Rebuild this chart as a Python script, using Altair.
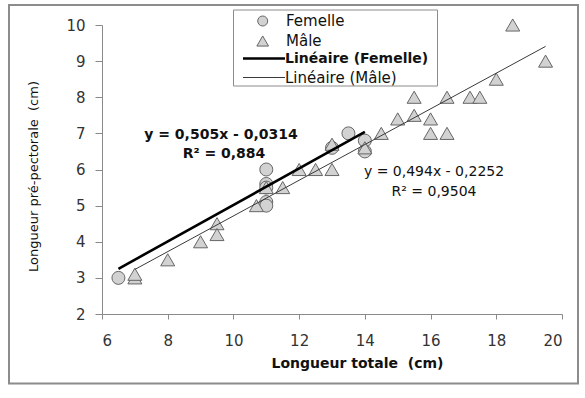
import altair as alt
import pandas as pd

# ---------------- data ----------------
fem_x = [6.5, 11.0, 11.0, 11.0, 11.0, 11.0, 13.0, 13.5, 14.0, 14.0]
fem_y = [3.0, 6.0, 5.6, 5.5, 5.1, 5.0, 6.6, 7.0, 6.8, 6.5]

male_x = [7.0, 7.0, 8.0, 9.0, 9.5, 9.5, 10.7, 11.0, 11.5, 12.0, 12.5, 13.0, 13.0,
          14.0, 14.5, 15.0, 15.5, 15.5, 16.0, 16.0, 16.5, 16.5, 17.2, 17.5, 18.0,
          18.5, 19.5]
male_y = [3.0, 3.1, 3.5, 4.0, 4.5, 4.2, 5.0, 5.5, 5.5, 6.0, 6.0, 6.0, 6.7,
          6.6, 7.0, 7.4, 8.0, 7.5, 7.4, 7.0, 7.0, 8.0, 8.0, 8.0, 8.5,
          10.0, 9.0]

trend_names = ["Femelle", "Mâle"]
trend_slope = [0.505, 0.494]
trend_intercept = [-0.0314, -0.2252]
trend_xmin = [6.5, 7.0]
trend_xmax = [14.0, 19.5]

eq_labels = ["y = 0,505x - 0,0314", "y = 0,494x - 0,2252"]
r2_labels = ["R² = 0,884", "R² = 0,9504"]

x_ticks = [6, 8, 10, 12, 14, 16, 18, 20]
y_ticks = [2, 3, 4, 5, 6, 7, 8, 9, 10]

legend_labels = ["Femelle", "Mâle", "Linéaire (Femelle)", "Linéaire (Mâle)"]
x_title = "Longueur totale \u00a0(cm)"
y_title = "Longueur pré-pectorale \u00a0(cm)"

# ---------------- tables ----------------
fem_df = pd.DataFrame({"x": fem_x, "y": fem_y})
male_df = pd.DataFrame({"x": male_x, "y": male_y})
rows = []
for n, a, b, x0, x1 in zip(trend_names, trend_slope, trend_intercept, trend_xmin, trend_xmax):
    for xv in (x0, x1):
        rows.append({"serie": n, "x": xv, "y": a * xv + b})
trend_df = pd.DataFrame(rows)

# ---------------- layout ----------------
PL, PT = 102, 25          # plot origin in page pixels
W, H = 460, 289
FONT = "DejaVu Sans"


def px(v):
    return v - PL


def py(v):
    return v - PT


one = pd.DataFrame({"k": [0]})

x_enc = alt.X("x:Q",
              scale=alt.Scale(domain=[6, 20], nice=False, zero=False),
              axis=alt.Axis(values=x_ticks, title=x_title, grid=False,
                            domainColor="#8a8a8a", tickColor="#8a8a8a", tickSize=5,
                            labelFont=FONT, labelFontSize=15, labelColor="#333333",
                            labelPadding=14,
                            titleFont=FONT, titleFontSize=14, titleFontWeight="bold",
                            titleColor="#111111",
                            titleX=px(357), titleY=49, titleAlign="center",
                            titleBaseline="middle"))
y_enc = alt.Y("y:Q",
              scale=alt.Scale(domain=[2, 10], nice=False, zero=False),
              axis=alt.Axis(values=y_ticks, title=y_title, grid=False,
                            domainColor="#8a8a8a", tickColor="#8a8a8a", tickSize=7,
                            labelFont=FONT, labelFontSize=15, labelColor="#333333",
                            labelPadding=10,
                            titleFont=FONT, titleFontSize=13, titleFontWeight="normal",
                            titleColor="#111111",
                            titleX=px(33), titleY=py(176), titleAlign="center",
                            titleBaseline="middle", titleAngle=270))

FILL = "#d2d2d2"
STROKE = "#666666"

border = alt.Chart(one).mark_rect(fill="transparent", stroke="#8c8c8c", strokeWidth=2).encode(
    x=alt.value(px(9)), x2=alt.value(px(578)), y=alt.value(py(5)), y2=alt.value(py(383.5)))

fem_pts = alt.Chart(fem_df).mark_point(shape="circle", filled=True, fill=FILL,
                                       stroke=STROKE, strokeWidth=1, size=169,
                                       opacity=1).encode(x=x_enc, y=y_enc)
male_pts = alt.Chart(male_df).mark_point(shape="triangle-up", filled=True, fill=FILL,
                                         stroke=STROKE, strokeWidth=1, size=196,
                                         opacity=1).encode(x=x_enc, y=y_enc)

fem_line = alt.Chart(trend_df).transform_filter(alt.datum.serie == "Femelle").mark_line(
    color="black", strokeWidth=2.6).encode(x=x_enc, y=y_enc)
male_line = alt.Chart(trend_df).transform_filter(alt.datum.serie == "Mâle").mark_line(
    color="#3a3a3a", strokeWidth=1).encode(x=x_enc, y=y_enc)


def text_layer(label, cx, cy, size, weight="normal", align="center"):
    return alt.Chart(pd.DataFrame({"t": [label]})).mark_text(
        font=FONT, fontSize=size, fontWeight=weight, align=align, baseline="middle",
        color="#111111").encode(x=alt.value(px(cx)), y=alt.value(py(cy)), text="t:N")


ann = [
    text_layer(eq_labels[0], 221, 135, 14, "bold"),
    text_layer(r2_labels[0], 224, 154, 14, "bold"),
    text_layer(eq_labels[1], 434, 172, 14),
    text_layer(r2_labels[1], 434, 192, 14),
]

# legend
leg_box = alt.Chart(one).mark_rect(fill="white", stroke="#8c8c8c", strokeWidth=1).encode(
    x=alt.value(px(233.5)), x2=alt.value(px(437.5)), y=alt.value(py(10)), y2=alt.value(py(86)))
leg_circle = alt.Chart(one).mark_point(shape="circle", filled=True, fill=FILL, stroke=STROKE,
                                       strokeWidth=1, size=100, opacity=1).encode(
    x=alt.value(px(262.7)), y=alt.value(py(21)))
leg_tri = alt.Chart(one).mark_point(shape="triangle-up", filled=True, fill=FILL, stroke=STROKE,
                                    strokeWidth=1, size=137, opacity=1).encode(
    x=alt.value(px(262.7)), y=alt.value(py(41)))
leg_l1 = alt.Chart(one).mark_rule(color="black", strokeWidth=2.6).encode(
    x=alt.value(px(243)), x2=alt.value(px(285)), y=alt.value(py(58.5)))
leg_l2 = alt.Chart(one).mark_rule(color="#3a3a3a", strokeWidth=1).encode(
    x=alt.value(px(243)), x2=alt.value(px(285)), y=alt.value(py(77.5)))
leg_txt = [
    text_layer(legend_labels[0], 286, 21, 15, align="left"),
    text_layer(legend_labels[1], 286, 40.5, 15, align="left"),
    text_layer(legend_labels[2], 285, 58.5, 14, "bold", align="left"),
    text_layer(legend_labels[3], 285, 77.5, 15, align="left"),
]

chart = alt.layer(
    fem_pts, male_pts, fem_line, male_line, border, *ann,
    leg_box, leg_circle, leg_tri, leg_l1, leg_l2, *leg_txt
).properties(
    width=W, height=H,
    padding={"left": PL, "top": PT, "right": 585 - PL - W, "bottom": 398 - PT - H},
    autosize=alt.AutoSizeParams(type="none"),
    background="white",
).configure_view(stroke=None)

chart.save("out.html", embed_options={"renderer": "svg", "actions": False})
